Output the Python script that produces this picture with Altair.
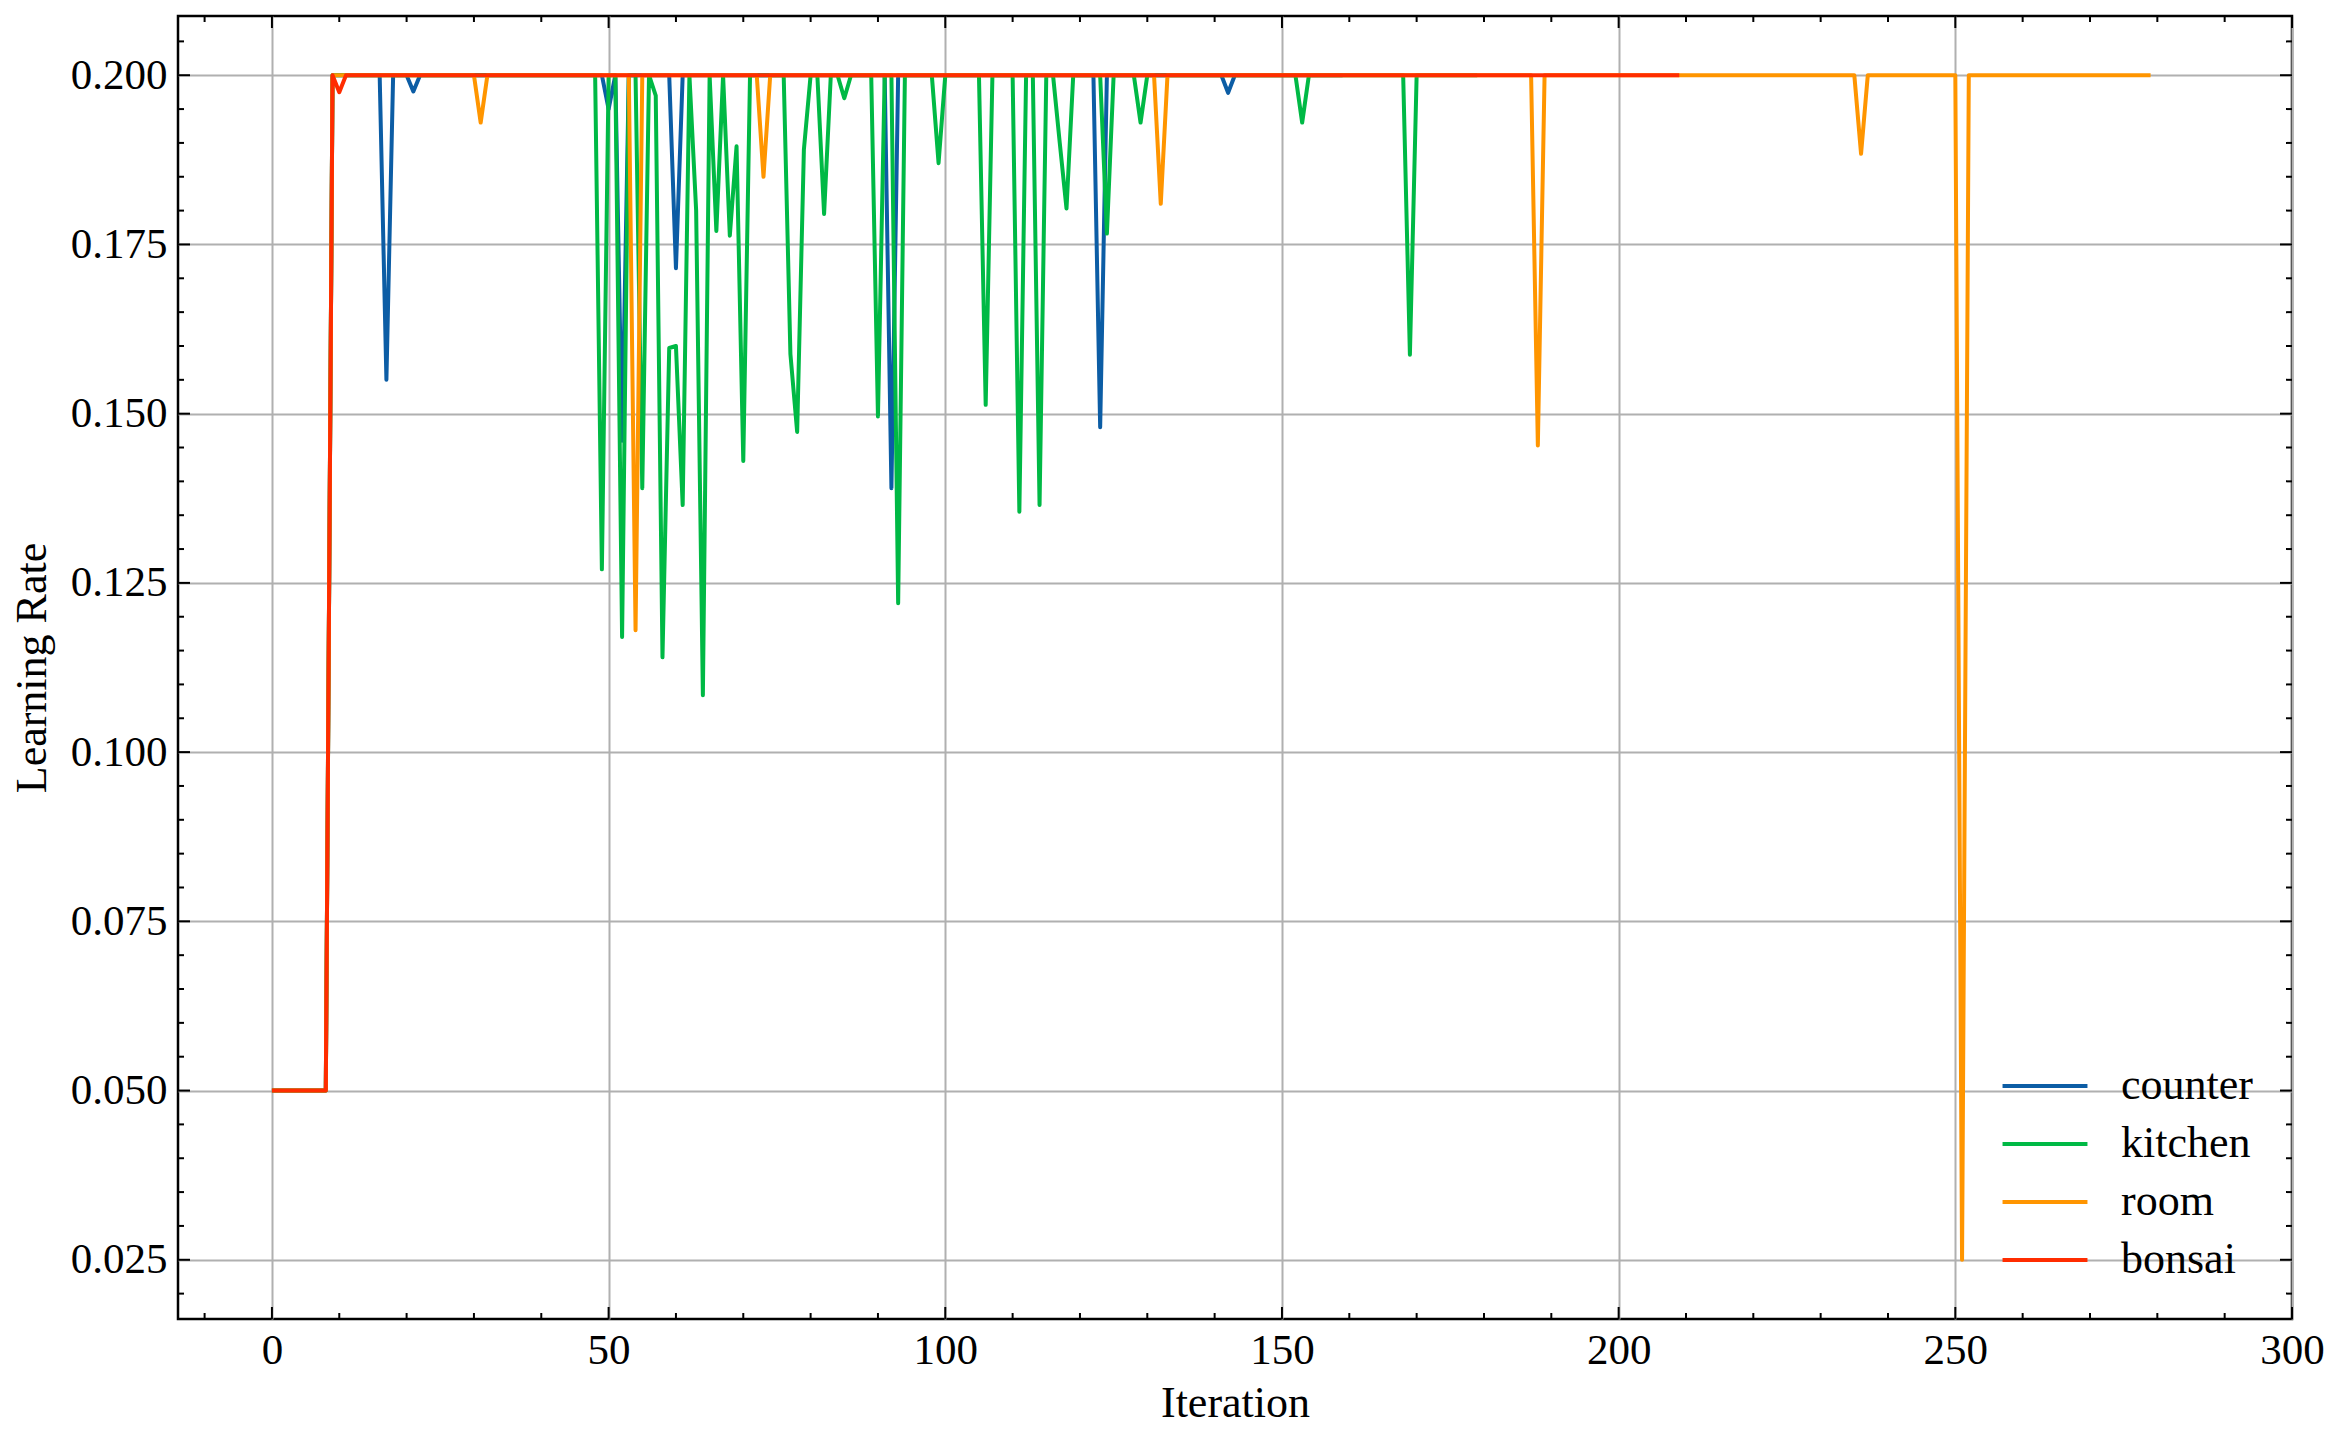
import altair as alt
import pandas as pd

# ---------------- data ----------------
series_names = ["counter", "kitchen", "room", "bonsai"]
series_colors = ["#0C5DA5", "#00B945", "#FF9500", "#FF2C00"]

# learning rate per iteration (index = iteration)
counter_lr = ([0.05] * 9 + [0.2] * 8 + [0.155] + [0.2] * 3 + [0.1976] + [0.2] * 28
              + [0.195] + [0.2] + [0.146] + [0.2] * 7 + [0.1715] + [0.2] * 31
              + [0.139] + [0.2] * 30 + [0.148] + [0.2] * 18 + [0.1974] + [0.2] * 17)

kitchen_lr = ([0.05] * 9 + [0.2] * 40 + [0.127] + [0.2] * 2 + [0.117] + [0.2] * 2
              + [0.139, 0.2, 0.197, 0.114, 0.1597, 0.160, 0.1365, 0.2, 0.180, 0.1084,
                 0.2, 0.177, 0.2, 0.1763, 0.1895, 0.143]
              + [0.2] * 6 + [0.1588, 0.1473, 0.189] + [0.2] * 2 + [0.1795] + [0.2] * 2
              + [0.1966] + [0.2] * 4 + [0.1496] + [0.2] * 2 + [0.122] + [0.2] * 5
              + [0.187] + [0.2] * 6 + [0.1513] + [0.2] * 4 + [0.1355] + [0.2] * 2
              + [0.1365] + [0.2] * 2 + [0.190, 0.1803] + [0.2] * 5 + [0.1766]
              + [0.2] * 4 + [0.193] + [0.2] * 23 + [0.193] + [0.2] * 15 + [0.1587]
              + [0.2] * 10)

room_lr = ([0.05] * 9 + [0.2] * 22 + [0.193] + [0.2] * 22 + [0.118] + [0.2] * 18
           + [0.185] + [0.2] * 58 + [0.181] + [0.2] * 55 + [0.1453] + [0.2] * 47
           + [0.1884] + [0.2] * 14 + [0.025] + [0.2] * 28)

bonsai_lr = [0.05] * 9 + [0.2] + [0.1975] + [0.2] * 199

series_values = [counter_lr, kitchen_lr, room_lr, bonsai_lr]

# axis ticks
x_major = [0, 50, 100, 150, 200, 250, 300]
x_minor = [-10, 10, 20, 30, 40, 60, 70, 80, 90, 110, 120, 130, 140, 160, 170, 180,
           190, 210, 220, 230, 240, 260, 270, 280, 290]
y_major = [0.025, 0.05, 0.075, 0.1, 0.125, 0.15, 0.175, 0.2]
y_minor = [0.02, 0.03, 0.035, 0.04, 0.045, 0.055, 0.06, 0.065, 0.07, 0.08, 0.085,
           0.09, 0.095, 0.105, 0.11, 0.115, 0.12, 0.13, 0.135, 0.14, 0.145, 0.155,
           0.16, 0.165, 0.17, 0.18, 0.185, 0.19, 0.195, 0.205]

x_domain = [-13.95, 300]
y_domain = [0.01625, 0.20875]

# ---------------- build tables ----------------
rows = []
for name, vals in zip(series_names, series_values):
    for i, v in enumerate(vals):
        rows.append({"Iteration": i, "LR": v, "series": name})
df = pd.DataFrame(rows)

xmaj_df = pd.DataFrame({"Iteration": x_major})
xmin_df = pd.DataFrame({"Iteration": x_minor})
ymaj_df = pd.DataFrame({"LR": y_major})
ymin_df = pd.DataFrame({"LR": y_minor})

# ---------------- styling ----------------
FONT = "Liberation Serif"
W, H = 2114, 1303
MAJ, MIN = 12, 6

x_scale = alt.Scale(domain=x_domain, nice=False, zero=False)
y_scale = alt.Scale(domain=y_domain, nice=False, zero=False)

x_axis = alt.Axis(values=x_major, format="d", labelFont=FONT, labelFontSize=43,
                  labelColor="black", labelPadding=10, labelFlush=False,
                  labelOverlap=False, ticks=False, tickSize=0, domain=False,
                  grid=True, gridColor="#b0b0b0", gridWidth=2,
                  title="Iteration", titleFont=FONT, titleFontSize=44,
                  titleFontWeight="normal", titleColor="black", titleY=97,
                  titleBaseline="alphabetic")
y_axis = alt.Axis(values=y_major, format=".3f", labelFont=FONT, labelFontSize=43,
                  labelColor="black", labelPadding=11, labelFlush=False,
                  labelOverlap=False, ticks=False, tickSize=0, domain=False,
                  grid=True, gridColor="#b0b0b0", gridWidth=2,
                  title="Learning Rate", titleFont=FONT, titleFontSize=44,
                  titleFontWeight="normal", titleColor="black", titleX=-168,
                  titleAngle=270, titleBaseline="top")


def xenc():
    return alt.X("Iteration:Q", scale=x_scale, axis=x_axis, title="Iteration")


def yenc():
    return alt.Y("LR:Q", scale=y_scale, axis=y_axis, title="Learning Rate")


legend = alt.Legend(title=None, orient="none", legendX=1845, legendY=1048,
                    symbolType="M-3.86,0H3.86", symbolSize=484, symbolStrokeWidth=4,
                    labelFont=FONT, labelFontSize=44, labelColor="black",
                    labelOffset=54, rowPadding=14, padding=0)

color = alt.Color("series:N", scale=alt.Scale(domain=series_names, range=series_colors),
                  legend=legend, title=None)

layers = []
for name in series_names:
    layers.append(
        alt.Chart(df).transform_filter(alt.datum.series == name)
        .mark_line(strokeWidth=4, strokeJoin="round", strokeCap="butt")
        .encode(x=xenc(), y=yenc(), color=color)
    )

rule_style = dict(color="black", strokeWidth=2)
# bottom & top ticks
layers.append(alt.Chart(xmaj_df).mark_rule(**rule_style).encode(
    x=xenc(), y=alt.value(H), y2=alt.value(H - MAJ)))
layers.append(alt.Chart(xmaj_df).mark_rule(**rule_style).encode(
    x=xenc(), y=alt.value(0), y2=alt.value(MAJ)))
layers.append(alt.Chart(xmin_df).mark_rule(**rule_style).encode(
    x=xenc(), y=alt.value(H), y2=alt.value(H - MIN)))
layers.append(alt.Chart(xmin_df).mark_rule(**rule_style).encode(
    x=xenc(), y=alt.value(0), y2=alt.value(MIN)))
# left & right ticks
layers.append(alt.Chart(ymaj_df).mark_rule(**rule_style).encode(
    y=yenc(), x=alt.value(0), x2=alt.value(MAJ)))
layers.append(alt.Chart(ymaj_df).mark_rule(**rule_style).encode(
    y=yenc(), x=alt.value(W), x2=alt.value(W - MAJ)))
layers.append(alt.Chart(ymin_df).mark_rule(**rule_style).encode(
    y=yenc(), x=alt.value(0), x2=alt.value(MIN)))
layers.append(alt.Chart(ymin_df).mark_rule(**rule_style).encode(
    y=yenc(), x=alt.value(W), x2=alt.value(W - MIN)))

chart = alt.layer(*layers).properties(
    width=W, height=H,
    autosize=alt.AutoSizeParams(type="none"),
    padding={"left": 170, "top": 8, "right": 40, "bottom": 112},
    background="white",
).configure_view(stroke="black", strokeWidth=2.5)

chart.save("out.html", embed_options={"renderer": "svg", "actions": False})
